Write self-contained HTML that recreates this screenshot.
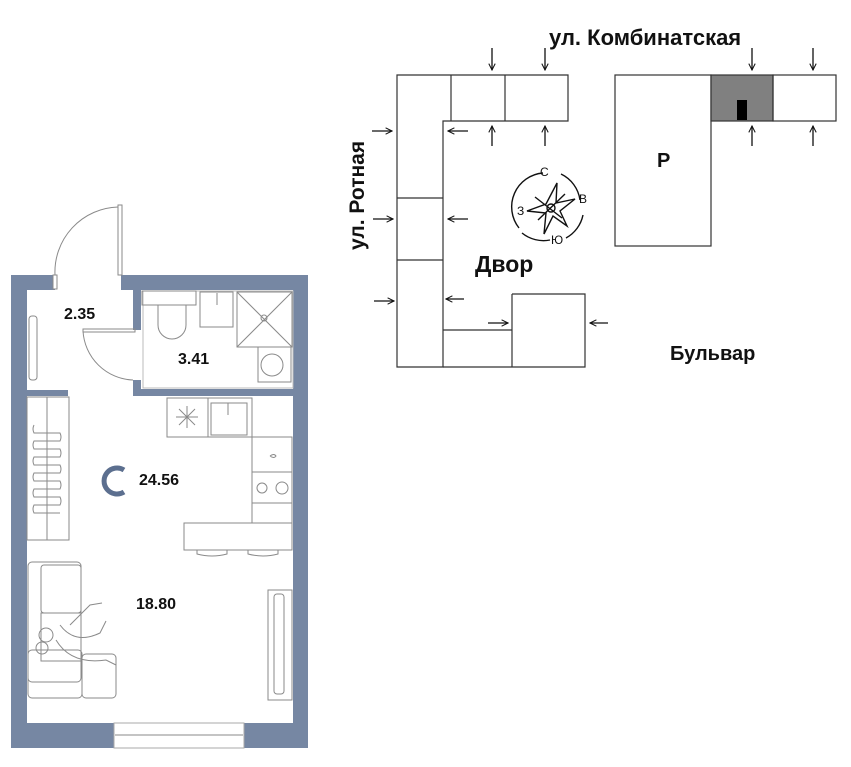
<!DOCTYPE html>
<html><head><meta charset="utf-8"><style>
html,body{margin:0;padding:0;background:#fff;width:851px;height:767px;overflow:hidden}
svg{display:block}
text{font-family:"Liberation Sans",sans-serif}
</style></head><body>
<svg width="851" height="767" viewBox="0 0 851 767" xmlns="http://www.w3.org/2000/svg">
<defs>
<marker id="ah" viewBox="0 0 10 10" refX="9" refY="5" markerWidth="8" markerHeight="8" orient="auto" markerUnits="userSpaceOnUse">
<path d="M1,1 L9,5 L1,9" fill="none" stroke="#111" stroke-width="1.3"/></marker>
</defs>
<g fill="#7687a3">
<rect x="11" y="275" width="44" height="15"/>
<rect x="121" y="275" width="187" height="15"/>
<rect x="11" y="275" width="16" height="473"/>
<rect x="293" y="275" width="15" height="473"/>
<rect x="11" y="723" width="103" height="25"/>
<rect x="244" y="723" width="64" height="25"/>
<rect x="133" y="289" width="8" height="41"/>
<rect x="133" y="380" width="8" height="16"/>
<rect x="133" y="389" width="160" height="7"/>
<rect x="27" y="390" width="41" height="6"/>
</g>
<g fill="none" stroke="#8a8a8a" stroke-width="1">
<rect x="118" y="205" width="4" height="70"/>
<path d="M55,275 A65,65 0 0 1 118,207"/>
<rect x="53" y="275" width="4" height="14" fill="#fff"/>
<rect x="83" y="329" width="52" height="3"/>
<path d="M83,331 A52,52 0 0 0 133,380"/>
<rect x="29" y="316" width="8" height="64" rx="3"/>
<rect x="143" y="291" width="150" height="97" stroke="#bbb"/>
<rect x="142" y="291" width="54" height="14"/>
<path d="M158,305 L158,325 A14,14 0 0 0 186,325 L186,305"/>
<rect x="200" y="292" width="33" height="35"/>
<line x1="217" y1="293" x2="217" y2="305"/>
<rect x="237" y="292" width="55" height="55"/>
<line x1="237" y1="292" x2="292" y2="347"/><line x1="292" y1="292" x2="237" y2="347"/>
<circle cx="264" cy="318" r="3"/>
<rect x="258" y="347" width="33" height="35"/>
<circle cx="272" cy="365" r="11"/>
<rect x="27" y="397" width="42" height="143"/>
<line x1="47" y1="397" x2="47" y2="540"/>
<path d="M34,425 q-2,4 0,8 h26 q2,4 0,8 h-26 q-2,4 0,8 h26 q2,4 0,8 h-26 q-2,4 0,8 h26 q2,4 0,8 h-26 q-2,4 0,8 h26 q2,4 0,8 h-26 q-2,4 0,8 h26 q2,4 0,8 h-26 q-2,4 0,8 h26"/>
<rect x="167" y="398" width="41" height="39"/>
<rect x="208" y="398" width="44" height="39"/>
<rect x="211" y="403" width="36" height="32"/>
<line x1="228" y1="403" x2="228" y2="415"/>
<path d="M176,417 h22 M187,406 v22 M179,409 l16,16 M195,409 l-16,16"/>
<rect x="252" y="437" width="40" height="86"/>
<line x1="252" y1="472" x2="292" y2="472"/>
<line x1="252" y1="503" x2="292" y2="503"/>
<circle cx="262" cy="488" r="5"/><circle cx="282" cy="488" r="6"/>
<path d="M270,456 q4,-3 6,0 q-2,3 -6,0"/>
<rect x="184" y="523" width="108" height="27"/>
<path d="M197,550 v4 q15,4 30,0 v-4 M248,550 v4 q15,4 30,0 v-4"/>
<rect x="28" y="562" width="53" height="120" rx="4"/>
<rect x="41" y="565" width="40" height="48" rx="3"/>
<rect x="41" y="613" width="40" height="48"/>
<rect x="82" y="654" width="34" height="44" rx="4"/>
<rect x="28" y="650" width="54" height="48" rx="4"/>
<path d="M60,625 q15,20 40,8 l6,-12 M56,640 q15,25 50,20 l10,5 M70,625 l20,-20 l12,-2"/>
<circle cx="46" cy="635" r="7"/><circle cx="42" cy="648" r="6"/>
<rect x="268" y="590" width="24" height="110"/>
<rect x="274" y="594" width="10" height="100" rx="3"/>
<rect x="114" y="723" width="130" height="25" stroke="#aaa"/>
<line x1="115" y1="735" x2="243" y2="735"/>
</g>
<path d="M124,470 A13,13 0 1 0 124,492" fill="none" stroke="#5c6f8f" stroke-width="5"/>
<g font-size="16" fill="#111" font-weight="bold">
<text x="64" y="319">2.35</text>
<text x="178" y="364">3.41</text>
<text x="139" y="485">24.56</text>
<text x="136" y="609">18.80</text>
</g>
<g fill="none" stroke="#333" stroke-width="1.2">
<path d="M397,75 H568 V121 H443 V367 H397 Z"/>
<line x1="451" y1="75" x2="451" y2="121"/>
<line x1="505" y1="75" x2="505" y2="121"/>
<line x1="397" y1="198" x2="443" y2="198"/>
<line x1="397" y1="260" x2="443" y2="260"/>
<path d="M443,330 H512 M512,294 H585 V367 H443"/>
<line x1="512" y1="294" x2="512" y2="367"/>
<rect x="615" y="75" width="96" height="171"/>
<rect x="711" y="75" width="62" height="46" fill="#808080"/>
<rect x="773" y="75" width="63" height="46"/>
</g>
<rect x="737" y="100" width="10" height="20" fill="#000"/>
<g stroke="#111" stroke-width="1.3" marker-end="url(#ah)">
<line x1="492" y1="48" x2="492" y2="70"/><line x1="545" y1="48" x2="545" y2="70"/>
<line x1="752" y1="48" x2="752" y2="70"/><line x1="813" y1="48" x2="813" y2="70"/>
<line x1="492" y1="146" x2="492" y2="126"/><line x1="545" y1="146" x2="545" y2="126"/>
<line x1="752" y1="146" x2="752" y2="126"/><line x1="813" y1="146" x2="813" y2="126"/>
<line x1="372" y1="131" x2="392" y2="131"/><line x1="373" y1="219" x2="393" y2="219"/><line x1="374" y1="301" x2="394" y2="301"/>
<line x1="468" y1="131" x2="448" y2="131"/><line x1="468" y1="219" x2="448" y2="219"/><line x1="464" y1="299" x2="446" y2="299"/>
<line x1="488" y1="323" x2="508" y2="323"/><line x1="608" y1="323" x2="590" y2="323"/>
</g>
<g fill="none" stroke="#111" stroke-width="1.4">
<path d="M543,173 A34,34 0 0 0 519,228 M561,174 A34,34 0 0 1 580,200 M583,215 A34,34 0 0 1 566,238 M550,240 A34,34 0 0 1 522,233"/>
<path d="M557,183 L556,203 L575,199 L560,211 L567,226 L553,216 L544,234 L546,213 L527,211 L546,204 Z M535,197 L562,218 M565,194 L538,220"/>
<circle cx="551" cy="208" r="4"/>
</g>
<g font-size="12" fill="#111">
<text x="540" y="176">С</text><text x="579" y="203">В</text><text x="517" y="215">З</text><text x="551" y="244">Ю</text>
</g>
<g font-weight="bold" fill="#111">
<text x="549" y="45" font-size="22">ул. Комбинатская</text>
<text x="475" y="272" font-size="23">Двор</text>
<text x="670" y="360" font-size="20">Бульвар</text>
<text x="657" y="167" font-size="20">P</text>
<text transform="translate(364,250) rotate(-90)" font-size="21">ул. Ротная</text>
</g>
</svg>
</body></html>
